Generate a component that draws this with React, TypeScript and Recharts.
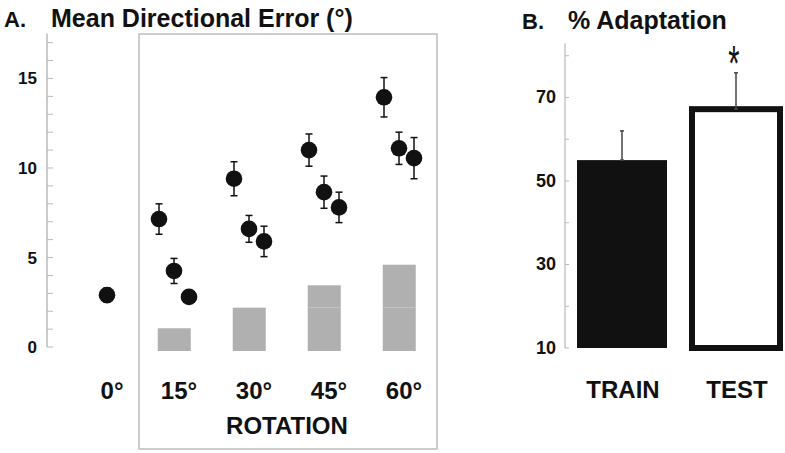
import React from 'react';
import { ComposedChart, BarChart, Bar, Scatter, XAxis, YAxis, ErrorBar, ReferenceLine, LabelList } from 'recharts';

// Panel A: mean directional error per rotation size
const rotations = [15, 30, 45, 60];
const firstMean = [7.15, 9.4, 11.0, 13.95];
const firstErr = [0.85, 0.95, 0.9, 1.1];
const secondMean = [4.25, 6.6, 8.65, 11.1];
const secondErr = [0.7, 0.75, 0.9, 0.9];
const thirdMean = [2.8, 5.9, 7.8, 10.55];
const thirdErr = [0.3, 0.85, 0.85, 1.15];
const baselineMean = [2.9];
const baselineErr = [0.4];
const expectedTop = [1.05, 2.2, 3.45, 4.6];
const expectedFloor = -0.22;
const expectedSplit = 2.2;
const rotationTicks = [0, 15, 30, 45, 60];
const errorTicks = [0, 1, 2, 3, 4, 5, 6, 7, 8, 9, 10, 11, 12, 13, 14, 15, 16, 17];

// Panel B: % adaptation
const groups = ['TRAIN', 'TEST'];
const adaptation = [55, 67.2];
const adaptationErr = [7, 8.7];
const significance = ['', '*'];
const adaptTicks = [10, 20, 30, 40, 50, 60, 70, 80];

const FONT = '"Liberation Sans", Arial, Helvetica, sans-serif';
const STEP = 3; // degrees between the three points in a group
const BASE_SHIFT = 1.6;
const EXPECTED_W = 33;

const barRows = rotations.map((r, i) => ({ x: r, range: [expectedFloor, expectedTop[i]] }));
const mk = (means: number[], errs: number[], dx: number) =>
  rotations.map((r, i) => ({ x: r + dx, y: means[i], err: errs[i] }));
const firstRows = mk(firstMean, firstErr, -STEP);
const secondRows = mk(secondMean, secondErr, 0);
const thirdRows = mk(thirdMean, thirdErr, STEP);
const baselineRows = baselineMean.map((m, i) => ({ x: 0 + BASE_SHIFT, y: m, err: baselineErr[i] }));

const adaptRows = groups.map((g, i) => ({
  name: g,
  value: adaptation[i],
  err: [0, adaptationErr[i]],
  sig: significance[i],
}));

const Dot = (props: any) => <circle cx={props.cx} cy={props.cy} r={8.3} fill="#111" />;

// gray bars: recharts squeezes the band on a number axis, so keep the width fixed around the centre
const ExpectedBar = (props: any) => {
  const { x, y, width, height, payload } = props;
  const [lo, hi] = payload.range;
  const ppu = height / (hi - lo);
  const splitY = y + (hi - expectedSplit) * ppu;
  const left = x + width / 2 - EXPECTED_W / 2;
  return (
    <g>
      <rect x={left} y={y} width={EXPECTED_W} height={height} fill="#b0b0b0" />
      {hi > expectedSplit + 0.05 && (
        <line x1={left} x2={left + EXPECTED_W} y1={splitY} y2={splitY} stroke="#c4c4c4" strokeWidth={1} />
      )}
    </g>
  );
};

const ErrorTick = (props: any) => {
  const { x, y, payload } = props;
  return (
    <g>
      <line x1={x} x2={x + 6} y1={y} y2={y} stroke="#bbb" />
      {payload.value % 5 === 0 && (
        <text x={x - 10} y={y} dy={6} textAnchor="end" fontFamily={FONT} fontWeight="bold" fontSize={17} fill="#111">
          {payload.value}
        </text>
      )}
    </g>
  );
};

const RotationTick = (props: any) => {
  const { x, y, payload } = props;
  const shift = payload.value === 0 ? BASE_SHIFT * 5 : 0;
  return (
    <text x={x + shift + 5} y={y + 48} textAnchor="middle" fontFamily={FONT} fontWeight="bold" fontSize={24} fill="#111">
      {payload.value}°
    </text>
  );
};

const AdaptTick = (props: any) => {
  const { x, y, payload } = props;
  return (
    <g>
      <line x1={x} x2={x + 4} y1={y} y2={y} stroke="#bbb" />
      {(payload.value - 10) % 20 === 0 && (
        <text x={x - 9} y={y} dy={6} textAnchor="end" fontFamily={FONT} fontWeight="bold" fontSize={18} fill="#111">
          {payload.value}
        </text>
      )}
    </g>
  );
};

const GroupTick = (props: any) => {
  const { x, y, payload } = props;
  return (
    <text x={x + 1} y={y + 50} textAnchor="middle" fontFamily={FONT} fontWeight="bold" fontSize={24} fill="#111">
      {payload.value}
    </text>
  );
};

const AdaptBar = (props: any) => {
  const { x, y, width, height, index } = props;
  if (index === 1) {
    return <rect x={x + 1} y={y} width={width - 2} height={height} fill="#fff" stroke="#111" strokeWidth={6} />;
  }
  return <rect x={x} y={y} width={width} height={height} fill="#111" />;
};

const Star = (props: any) => {
  const { x, y, width, value } = props;
  if (!value) return null;
  return (
    <text
      transform={`translate(${x + width / 2 - 2},${y - 28}) scale(1,1.7)`}
      textAnchor="middle"
      fontFamily={FONT}
      fontSize={29}
      fill="#111"
    >
      {value}
    </text>
  );
};

export default function App() {
  return (
    <div style={{ position: 'absolute', left: 0, top: 0, width: 785, height: 453, overflow: 'hidden', background: '#fff' }}>
      <div style={{ position: 'absolute', left: 0, top: 0 }}>
        <ComposedChart width={440} height={453} data={barRows} margin={{ top: 33.7, right: 3, bottom: 42, left: 7 }}>
          <XAxis
            dataKey="x"
            type="number"
            domain={[-10.4, 67.6]}
            ticks={rotationTicks}
            axisLine={false}
            tickLine={false}
            tickSize={0}
            tickMargin={0}
            height={60}
            tick={<RotationTick />}
          />
          <YAxis
            type="number"
            domain={[expectedFloor, 17.5]}
            ticks={errorTicks}
            interval={0}
            width={40}
            axisLine={false}
            tickLine={false}
            tickSize={0}
            tickMargin={0}
            tick={<ErrorTick />}
          />
          <ReferenceLine
            segment={[{ x: -10.4, y: 0 }, { x: -10.4, y: 17.5 }]}
            stroke="#999"
            strokeWidth={1}
            ifOverflow="visible"
          />
          <Bar dataKey="range" barSize={EXPECTED_W} shape={<ExpectedBar />} isAnimationActive={false} />
          <Scatter data={baselineRows} dataKey="y" shape={<Dot />} isAnimationActive={false}>
            <ErrorBar dataKey="err" direction="y" width={3.5} stroke="#111" strokeWidth={1.5} />
          </Scatter>
          <Scatter data={firstRows} dataKey="y" shape={<Dot />} isAnimationActive={false}>
            <ErrorBar dataKey="err" direction="y" width={3.5} stroke="#111" strokeWidth={1.5} />
          </Scatter>
          <Scatter data={secondRows} dataKey="y" shape={<Dot />} isAnimationActive={false}>
            <ErrorBar dataKey="err" direction="y" width={3.5} stroke="#111" strokeWidth={1.5} />
          </Scatter>
          <Scatter data={thirdRows} dataKey="y" shape={<Dot />} isAnimationActive={false}>
            <ErrorBar dataKey="err" direction="y" width={3.5} stroke="#111" strokeWidth={1.5} />
          </Scatter>
        </ComposedChart>
      </div>

      <div style={{ position: 'absolute', left: 500, top: 0 }}>
        <BarChart width={300} height={453} data={adaptRows} margin={{ top: 43.2, right: 7, bottom: 45, left: 5 }} barCategoryGap={12}>
          <XAxis dataKey="name" axisLine={false} tickLine={false} tickSize={0} tickMargin={0} height={60} tick={<GroupTick />} />
          <YAxis
            type="number"
            domain={[10, 83]}
            ticks={adaptTicks}
            interval={0}
            width={60}
            axisLine={{ stroke: '#aaa' }}
            tickLine={false}
            tickSize={0}
            tickMargin={0}
            tick={<AdaptTick />}
          />
          <Bar dataKey="value" barSize={90} shape={<AdaptBar />} isAnimationActive={false}>
            <ErrorBar dataKey="err" direction="y" width={2} stroke="#444" strokeWidth={1.5} />
            <LabelList dataKey="sig" content={<Star />} />
          </Bar>
        </BarChart>
      </div>

      <svg width={785} height={453} style={{ position: 'absolute', left: 0, top: 0, pointerEvents: 'none' }}>
        <rect x={139} y={34} width={298} height={415} fill="none" stroke="#bdbdbd" strokeWidth={1.5} />
        <g fontFamily={FONT} fontWeight="bold" fill="#111">
          <text x={4} y={26.5} fontSize={22}>A.</text>
          <text x={51} y={26.5} fontSize={25}>Mean Directional Error (°)</text>
          <text x={287} y={434} fontSize={24} textAnchor="middle">ROTATION</text>
          <text x={522} y={28.5} fontSize={22}>B.</text>
          <text x={568} y={28.5} fontSize={25}>% Adaptation</text>
        </g>
      </svg>
    </div>
  );
}
